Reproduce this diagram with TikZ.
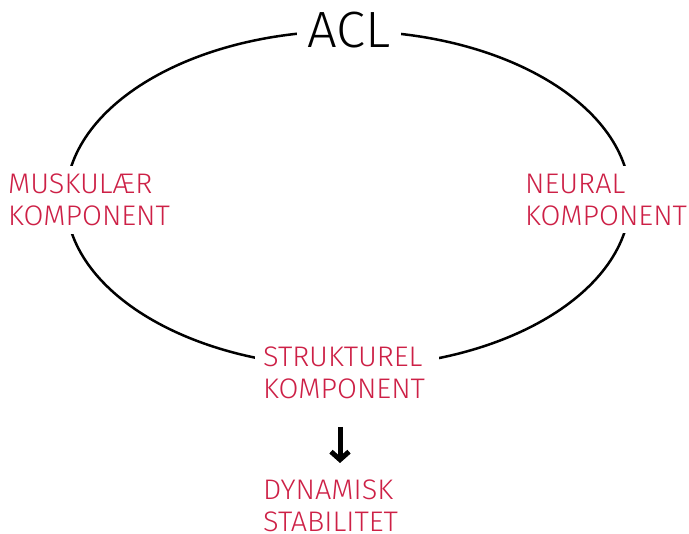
\documentclass[tikz,border=0pt]{standalone}
\usepackage{fontspec}
\newfontfamily\labfont[FakeStretch=1.02]{Fira Sans Light}
\newfontfamily\titlefont[FakeStretch=1.03]{Fira Sans Light}
\usetikzlibrary{arrows.meta}
\definecolor{labred}{RGB}{205,32,70}
\tikzset{
  ring/.style={line width=2.5pt, black},
  lab/.style={font=\labfont\fontsize{28.3}{31.5}\selectfont, text=labred, align=left, anchor=north west},
  gapbox/.style={fill=white, inner xsep=8pt, inner ysep=8pt},
  title/.style={font=\titlefont\fontsize{51}{56}\selectfont, text=black, fill=white, inner xsep=10pt, inner ysep=2pt, anchor=base},
  downarrow/.style={line width=5pt, -{Straight Barb[length=8pt, width=18pt]}}
}
\begin{document}
\begin{tikzpicture}[x=1pt, y=-1pt]
\useasboundingbox (0,0) rectangle (689,534);
\draw[ring] (348,199) ellipse [x radius=282pt, y radius=168pt];
\node[title] (acl) at (349,48) {ACL};
\node[lab, gapbox] (musk) at (0,166) {MUSKULÆR\\KOMPONENT};
\node[lab, gapbox] (neur) at (517,166) {NEURAL\\KOMPONENT};
\node[lab, gapbox, text width=168pt] (struk) at (255,339) {STRUKTUREL\\KOMPONENT};
\node[lab, inner sep=0pt] (dyn) at (263,480) {DYNAMISK\\STABILITET};
\coordinate (atop) at (340,427);
\coordinate (abot) at (340,463);
\draw[downarrow] (atop) -- (abot);
\end{tikzpicture}
\end{document}
